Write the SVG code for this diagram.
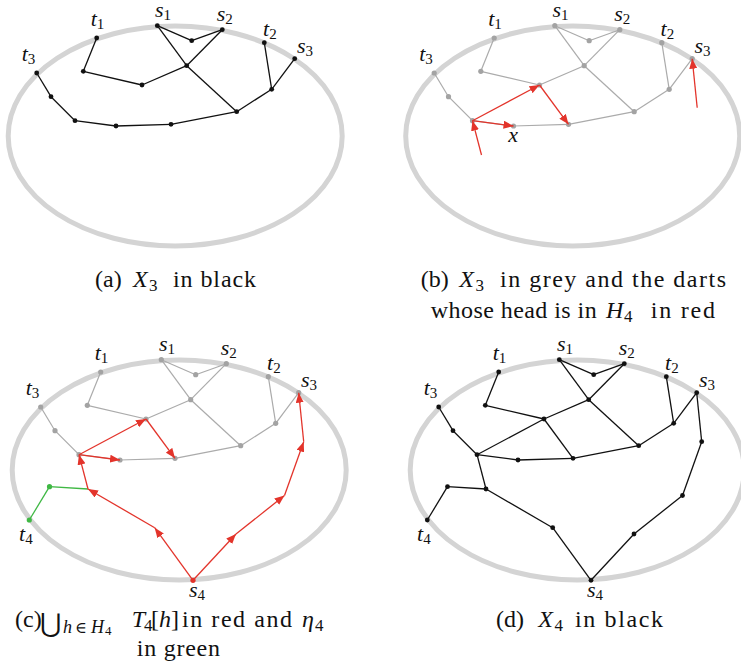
<svg xmlns="http://www.w3.org/2000/svg" width="741" height="672" viewBox="0 0 741 672">
<style>
.ell{fill:none;stroke:#d4d4d4;stroke-width:5}
.eb{fill:none;stroke:#111;stroke-width:1.3}
.eg{fill:none;stroke:#ababab;stroke-width:1.2}
.er{fill:none;stroke:#e3342b;stroke-width:1.3;marker-end:url(#arr)}
.egr{fill:none;stroke:#3fb844;stroke-width:1.3}
.nb{fill:#111}
.ng{fill:#a3a3a3}
.nr{fill:#e3342b}
.ngr{fill:#3fb844}
.lbl{font-family:"Liberation Serif","Times New Roman",serif;font-style:italic;font-size:22px;fill:#111}
.sub{font-style:normal;font-size:15px}
.cap{font-family:"Liberation Serif","Times New Roman",serif;font-size:24px;fill:#111}
.it{font-style:italic}
.cs{font-size:17px;font-style:normal}
</style>
<defs>
<marker id="arr" viewBox="0 0 10 8" refX="10" refY="4" markerWidth="10" markerHeight="8" markerUnits="userSpaceOnUse" orient="auto">
<path d="M0,0 L10,4 L0,8 z" fill="#e3342b"/>
</marker>
</defs>

<!-- Panel (a) -->
<g id="panel-a">
<ellipse class="ell" cx="175.2" cy="136" rx="167" ry="110"/>
<g id="a-connectors" class="eb">
<path d="M36.7,73 L51,96.7"/><path d="M51,96.7 L75,120.7"/><path d="M75,120.7 L116,126"/><path d="M116,126 L171,124.3"/>
<path d="M171,124.3 L236.7,111.7"/><path d="M236.7,111.7 L271.7,89.3"/><path d="M271.7,89.3 L264.3,42.7"/><path d="M271.7,89.3 L294.7,58.7"/>
<path d="M157.3,25.7 L191.7,40.7"/><path d="M191.7,40.7 L222.3,29.7"/><path d="M157.3,25.7 L186.7,65.7"/><path d="M222.3,29.7 L186.7,65.7"/>
<path d="M186.7,65.7 L236.7,111.7"/><path d="M186.7,65.7 L142,85"/><path d="M142,85 L83.3,71.3"/><path d="M83.3,71.3 L96.7,38"/>
</g>
<g id="a-nodes" class="nb">
<g id="a-t3"><circle cx="36.7" cy="73" r="2.4"/><text class="lbl" x="21.7" y="60.7">t<tspan class="sub" dy="3">3</tspan></text></g>
<g id="a-n2"><circle cx="51" cy="96.7" r="2.4"/></g>
<g id="a-c"><circle cx="75" cy="120.7" r="2.4"/></g>
<g id="a-x"><circle cx="116" cy="126" r="2.4"/></g>
<g id="a-n5"><circle cx="171" cy="124.3" r="2.4"/></g>
<g id="a-n6"><circle cx="236.7" cy="111.7" r="2.4"/></g>
<g id="a-n7"><circle cx="271.7" cy="89.3" r="2.4"/></g>
<g id="a-t2"><circle cx="264.3" cy="42.7" r="2.4"/><text class="lbl" x="263" y="36">t<tspan class="sub" dy="3">2</tspan></text></g>
<g id="a-s3"><circle cx="294.7" cy="58.7" r="2.4"/><text class="lbl" x="297" y="53">s<tspan class="sub" dy="3">3</tspan></text></g>
<g id="a-s1"><circle cx="157.3" cy="25.7" r="2.4"/><text class="lbl" x="155" y="17">s<tspan class="sub" dy="3">1</tspan></text></g>
<g id="a-m12"><circle cx="191.7" cy="40.7" r="2.4"/></g>
<g id="a-s2"><circle cx="222.3" cy="29.7" r="2.4"/><text class="lbl" x="216.7" y="20.5">s<tspan class="sub" dy="3">2</tspan></text></g>
<g id="a-ctr"><circle cx="186.7" cy="65.7" r="2.4"/></g>
<g id="a-mid"><circle cx="142" cy="85" r="2.4"/></g>
<g id="a-n8"><circle cx="83.3" cy="71.3" r="2.4"/></g>
<g id="a-t1"><circle cx="96.7" cy="38" r="2.4"/><text class="lbl" x="90.7" y="26">t<tspan class="sub" dy="3">1</tspan></text></g>
</g>
</g>

<!-- Panel (b) -->
<g id="panel-b" transform="translate(397.5,0)">
<ellipse class="ell" cx="175.2" cy="136" rx="167" ry="110"/>
<g id="b-connectors">
<g class="eg">
<path d="M36.7,73 L51,96.7"/><path d="M51,96.7 L75,120.7"/><path d="M75,120.7 L116,126"/><path d="M116,126 L171,124.3"/>
<path d="M171,124.3 L236.7,111.7"/><path d="M236.7,111.7 L271.7,89.3"/><path d="M271.7,89.3 L264.3,42.7"/><path d="M271.7,89.3 L294.7,58.7"/>
<path d="M157.3,25.7 L191.7,40.7"/><path d="M191.7,40.7 L222.3,29.7"/><path d="M157.3,25.7 L186.7,65.7"/><path d="M222.3,29.7 L186.7,65.7"/>
<path d="M186.7,65.7 L236.7,111.7"/><path d="M186.7,65.7 L142,85"/><path d="M142,85 L83.3,71.3"/><path d="M83.3,71.3 L96.7,38"/>
</g>
</g>
<g id="b-nodes" class="ng">
<g id="b-t3"><circle cx="36.7" cy="73" r="2.6"/><text class="lbl" x="21.7" y="60.7">t<tspan class="sub" dy="3">3</tspan></text></g>
<g id="b-n2"><circle cx="51" cy="96.7" r="2.6"/></g>
<g id="b-c"><circle cx="75" cy="120.7" r="2.6"/></g>
<g id="b-x"><circle cx="116" cy="126" r="2.6"/><text class="lbl" x="110.8" y="141.7">x</text></g>
<g id="b-n5"><circle cx="171" cy="124.3" r="2.6"/></g>
<g id="b-n6"><circle cx="236.7" cy="111.7" r="2.6"/></g>
<g id="b-n7"><circle cx="271.7" cy="89.3" r="2.6"/></g>
<g id="b-t2"><circle cx="264.3" cy="42.7" r="2.6"/><text class="lbl" x="263" y="36">t<tspan class="sub" dy="3">2</tspan></text></g>
<g id="b-s3"><circle cx="294.7" cy="58.7" r="2.6"/><text class="lbl" x="297" y="53">s<tspan class="sub" dy="3">3</tspan></text></g>
<g id="b-s1"><circle cx="157.3" cy="25.7" r="2.6"/><text class="lbl" x="155" y="17">s<tspan class="sub" dy="3">1</tspan></text></g>
<g id="b-m12"><circle cx="191.7" cy="40.7" r="2.6"/></g>
<g id="b-s2"><circle cx="222.3" cy="29.7" r="2.6"/><text class="lbl" x="216.7" y="20.5">s<tspan class="sub" dy="3">2</tspan></text></g>
<g id="b-ctr"><circle cx="186.7" cy="65.7" r="2.6"/></g>
<g id="b-mid"><circle cx="142" cy="85" r="2.6"/></g>
<g id="b-n8"><circle cx="83.3" cy="71.3" r="2.6"/></g>
<g id="b-t1"><circle cx="96.7" cy="38" r="2.6"/><text class="lbl" x="90.7" y="26">t<tspan class="sub" dy="3">1</tspan></text></g>
</g>
<g id="b-darts">
<path class="er" d="M75,120.7 L142,85"/>
<path class="er" d="M142,85 L171,124.3"/>
<path class="er" d="M75,120.7 L116,126"/>
<path class="er" d="M84,155 L75,120.7"/>
<path class="er" d="M299.7,107.7 L294.7,58.7"/>
</g>
</g>

<!-- Panel (c) -->
<g id="panel-c" transform="translate(4,334)">
<ellipse class="ell" cx="175.2" cy="136" rx="167" ry="110"/>
<g id="c-connectors">
<g class="eg">
<path d="M36.7,73 L51,96.7"/><path d="M51,96.7 L75,120.7"/><path d="M75,120.7 L116,126"/><path d="M116,126 L171,124.3"/>
<path d="M171,124.3 L236.7,111.7"/><path d="M236.7,111.7 L271.7,89.3"/><path d="M271.7,89.3 L264.3,42.7"/><path d="M271.7,89.3 L294.7,58.7"/>
<path d="M157.3,25.7 L191.7,40.7"/><path d="M191.7,40.7 L222.3,29.7"/><path d="M157.3,25.7 L186.7,65.7"/><path d="M222.3,29.7 L186.7,65.7"/>
<path d="M186.7,65.7 L236.7,111.7"/><path d="M186.7,65.7 L142,85"/><path d="M142,85 L83.3,71.3"/><path d="M83.3,71.3 L96.7,38"/>
</g>
</g>
<g id="c-nodes" class="ng">
<g id="c-t3"><circle cx="36.7" cy="73" r="2.6"/><text class="lbl" x="21.7" y="60.7">t<tspan class="sub" dy="3">3</tspan></text></g>
<g id="c-n2"><circle cx="51" cy="96.7" r="2.6"/></g>
<g id="c-c"><circle cx="75" cy="120.7" r="2.6"/></g>
<g id="c-x"><circle cx="116" cy="126" r="2.6"/></g>
<g id="c-n5"><circle cx="171" cy="124.3" r="2.6"/></g>
<g id="c-n6"><circle cx="236.7" cy="111.7" r="2.6"/></g>
<g id="c-n7"><circle cx="271.7" cy="89.3" r="2.6"/></g>
<g id="c-t2"><circle cx="264.3" cy="42.7" r="2.6"/><text class="lbl" x="263" y="36">t<tspan class="sub" dy="3">2</tspan></text></g>
<g id="c-s3"><circle cx="294.7" cy="58.7" r="2.6"/><text class="lbl" x="297" y="53">s<tspan class="sub" dy="3">3</tspan></text></g>
<g id="c-s1"><circle cx="157.3" cy="25.7" r="2.6"/><text class="lbl" x="155" y="17">s<tspan class="sub" dy="3">1</tspan></text></g>
<g id="c-m12"><circle cx="191.7" cy="40.7" r="2.6"/></g>
<g id="c-s2"><circle cx="222.3" cy="29.7" r="2.6"/><text class="lbl" x="216.7" y="20.5">s<tspan class="sub" dy="3">2</tspan></text></g>
<g id="c-ctr"><circle cx="186.7" cy="65.7" r="2.6"/></g>
<g id="c-mid"><circle cx="142" cy="85" r="2.6"/></g>
<g id="c-n8"><circle cx="83.3" cy="71.3" r="2.6"/></g>
<g id="c-t1"><circle cx="96.7" cy="38" r="2.6"/><text class="lbl" x="90.7" y="26">t<tspan class="sub" dy="3">1</tspan></text></g>
</g>
<g id="c-paths">
<path class="egr" d="M25.3,186 L45.5,152.7"/>
<path class="egr" d="M45.5,152.7 L84,155"/>
<path class="er" d="M189,246.3 L150.7,193.7"/>
<path class="er" d="M150.7,193.7 L84,155"/>
<path class="er" d="M84,155 L75,120.7"/>
<path class="er" d="M75,120.7 L142,85"/>
<path class="er" d="M142,85 L171,124.3"/>
<path class="er" d="M75,120.7 L116,126"/>
<path class="er" d="M189,246.3 L232,200"/>
<path class="er" d="M232,200 L280.5,161.5"/>
<path class="er" d="M280.5,161.5 L299.7,107.7"/>
<path class="er" d="M299.7,107.7 L294.7,58.7"/>
</g>
<g id="c-t4" class="ngr"><circle cx="25.3" cy="186" r="2.6"/><text class="lbl" x="15" y="207">t<tspan class="sub" dy="3">4</tspan></text></g>
<g id="c-g" class="ngr"><circle cx="45.5" cy="152.7" r="2.6"/></g>
<g id="c-s4" class="nr"><circle cx="189" cy="246.3" r="2.6"/><text class="lbl" x="185" y="262.7">s<tspan class="sub" dy="3">4</tspan></text></g>
</g>

<!-- Panel (d) -->
<g id="panel-d" transform="translate(402,334)">
<ellipse class="ell" cx="175.2" cy="136" rx="167" ry="110"/>
<g id="d-connectors" class="eb">
<path d="M36.7,73 L51,96.7"/><path d="M51,96.7 L75,120.7"/><path d="M75,120.7 L116,126"/><path d="M116,126 L171,124.3"/>
<path d="M171,124.3 L236.7,111.7"/><path d="M236.7,111.7 L271.7,89.3"/><path d="M271.7,89.3 L264.3,42.7"/><path d="M271.7,89.3 L294.7,58.7"/>
<path d="M157.3,25.7 L191.7,40.7"/><path d="M191.7,40.7 L222.3,29.7"/><path d="M157.3,25.7 L186.7,65.7"/><path d="M222.3,29.7 L186.7,65.7"/>
<path d="M186.7,65.7 L236.7,111.7"/><path d="M186.7,65.7 L142,85"/><path d="M142,85 L83.3,71.3"/><path d="M83.3,71.3 L96.7,38"/>
<path d="M75,120.7 L142,85"/><path d="M142,85 L171,124.3"/>
<path d="M75,120.7 L84,155"/><path d="M84,155 L150.7,193.7"/><path d="M150.7,193.7 L189,246.3"/>
<path d="M189,246.3 L232,200"/><path d="M232,200 L280.5,161.5"/><path d="M280.5,161.5 L299.7,107.7"/><path d="M299.7,107.7 L294.7,58.7"/>
<path d="M84,155 L45.5,152.7"/><path d="M45.5,152.7 L25.3,186"/>
</g>
<g id="d-nodes" class="nb">
<g id="d-t3"><circle cx="36.7" cy="73" r="2.4"/><text class="lbl" x="21.7" y="60.7">t<tspan class="sub" dy="3">3</tspan></text></g>
<g id="d-n2"><circle cx="51" cy="96.7" r="2.4"/></g>
<g id="d-c"><circle cx="75" cy="120.7" r="2.4"/></g>
<g id="d-x"><circle cx="116" cy="126" r="2.4"/></g>
<g id="d-n5"><circle cx="171" cy="124.3" r="2.4"/></g>
<g id="d-n6"><circle cx="236.7" cy="111.7" r="2.4"/></g>
<g id="d-n7"><circle cx="271.7" cy="89.3" r="2.4"/></g>
<g id="d-t2"><circle cx="264.3" cy="42.7" r="2.4"/><text class="lbl" x="263" y="36">t<tspan class="sub" dy="3">2</tspan></text></g>
<g id="d-s3"><circle cx="294.7" cy="58.7" r="2.4"/><text class="lbl" x="297" y="53">s<tspan class="sub" dy="3">3</tspan></text></g>
<g id="d-s1"><circle cx="157.3" cy="25.7" r="2.4"/><text class="lbl" x="155" y="17">s<tspan class="sub" dy="3">1</tspan></text></g>
<g id="d-m12"><circle cx="191.7" cy="40.7" r="2.4"/></g>
<g id="d-s2"><circle cx="222.3" cy="29.7" r="2.4"/><text class="lbl" x="216.7" y="20.5">s<tspan class="sub" dy="3">2</tspan></text></g>
<g id="d-ctr"><circle cx="186.7" cy="65.7" r="2.4"/></g>
<g id="d-mid"><circle cx="142" cy="85" r="2.4"/></g>
<g id="d-n8"><circle cx="83.3" cy="71.3" r="2.4"/></g>
<g id="d-t1"><circle cx="96.7" cy="38" r="2.4"/><text class="lbl" x="90.7" y="26">t<tspan class="sub" dy="3">1</tspan></text></g>
<g id="d-b"><circle cx="84" cy="155" r="2.4"/></g>
<g id="d-a"><circle cx="150.7" cy="193.7" r="2.4"/></g>
<g id="d-s4"><circle cx="189" cy="246.3" r="2.4"/><text class="lbl" x="185" y="262.7">s<tspan class="sub" dy="3">4</tspan></text></g>
<g id="d-d"><circle cx="232" cy="200" r="2.4"/></g>
<g id="d-e"><circle cx="280.5" cy="161.5" r="2.4"/></g>
<g id="d-f"><circle cx="299.7" cy="107.7" r="2.4"/></g>
<g id="d-g"><circle cx="45.5" cy="152.7" r="2.4"/></g>
<g id="d-t4"><circle cx="25.3" cy="186" r="2.4"/><text class="lbl" x="15" y="207">t<tspan class="sub" dy="3">4</tspan></text></g>
</g>
</g>

<!-- Captions -->
<g id="captions" class="cap">
<text y="286.5"><tspan x="95">(a)</tspan><tspan x="133" class="it">X</tspan><tspan x="149" class="cs" dy="4">3</tspan><tspan x="173" dy="-4" textLength="83" lengthAdjust="spacing">in black</tspan></text>
<text y="286.5"><tspan x="420.7">(b)</tspan><tspan x="459.3" class="it">X</tspan><tspan x="475.5" class="cs" dy="4">3</tspan><tspan x="500" dy="-4" textLength="226" lengthAdjust="spacing">in grey and the darts</tspan></text>
<text y="318"><tspan x="430.7" textLength="166" lengthAdjust="spacing">whose head is in</tspan><tspan x="606" class="it">H</tspan><tspan x="624" class="cs" dy="4">4</tspan><tspan x="650.7" dy="-4" textLength="64.3" lengthAdjust="spacing">in red</tspan></text>
<text y="626.5"><tspan x="15">(c)</tspan><tspan x="40" dy="5" style="font-family:'DejaVu Serif',serif;font-size:26px">⋃</tspan><tspan x="63" dy="1" class="it" style="font-size:18px">h</tspan><tspan x="75" style="font-family:'DejaVu Serif',serif;font-size:16px">∈</tspan><tspan x="91" class="it" style="font-size:18px">H</tspan><tspan x="105" style="font-size:13px" dy="2">4</tspan><tspan x="131.7" dy="-8" class="it">T</tspan><tspan x="144" class="cs" dy="4">4</tspan><tspan x="151" dy="-4">[</tspan><tspan class="it">h</tspan><tspan>]</tspan><tspan x="182" textLength="110" lengthAdjust="spacing">in red and</tspan><tspan x="302" class="it">η</tspan><tspan x="315" class="cs" dy="4">4</tspan></text>
<text y="656"><tspan x="136.7" textLength="83.3" lengthAdjust="spacing">in green</tspan></text>
<text y="626.5"><tspan x="496">(d)</tspan><tspan x="538.3" class="it">X</tspan><tspan x="554.5" class="cs" dy="4">4</tspan><tspan x="575" dy="-4" textLength="88" lengthAdjust="spacing">in black</tspan></text>
</g>
</svg>
